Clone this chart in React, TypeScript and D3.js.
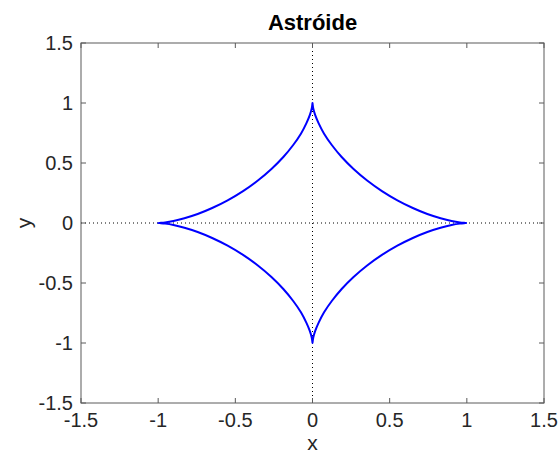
import React from "react";
import * as d3 from "d3";

const curveX = [
  1.0, 0.989, 0.955, 0.901, 0.83, 0.744, 0.65, 0.55, 0.45, 0.354, 0.266, 0.189, 0.125, 0.075, 0.04, 0.017, 0.005, 0.001, 0.0,
  -0.001, -0.005, -0.017, -0.04, -0.075, -0.125, -0.189, -0.266, -0.354, -0.45, -0.55, -0.65, -0.744, -0.83, -0.901, -0.955, -0.989, -1.0,
  -0.989, -0.955, -0.901, -0.83, -0.744, -0.65, -0.55, -0.45, -0.354, -0.266, -0.189, -0.125, -0.075, -0.04, -0.017, -0.005, -0.001, 0.0,
  0.001, 0.005, 0.017, 0.04, 0.075, 0.125, 0.189, 0.266, 0.354, 0.45, 0.55, 0.65, 0.744, 0.83, 0.901, 0.955, 0.989, 1.0,
];
const curveY = [
  0.0, 0.001, 0.005, 0.017, 0.04, 0.075, 0.125, 0.189, 0.266, 0.354, 0.45, 0.55, 0.65, 0.744, 0.83, 0.901, 0.955, 0.989, 1.0,
  0.989, 0.955, 0.901, 0.83, 0.744, 0.65, 0.55, 0.45, 0.354, 0.266, 0.189, 0.125, 0.075, 0.04, 0.017, 0.005, 0.001, 0.0,
  -0.001, -0.005, -0.017, -0.04, -0.075, -0.125, -0.189, -0.266, -0.354, -0.45, -0.55, -0.65, -0.744, -0.83, -0.901, -0.955, -0.989, -1.0,
  -0.989, -0.955, -0.901, -0.83, -0.744, -0.65, -0.55, -0.45, -0.354, -0.266, -0.189, -0.125, -0.075, -0.04, -0.017, -0.005, -0.001, 0.0,
];
const xTicks = [-1.5, -1, -0.5, 0, 0.5, 1, 1.5];
const yTicks = [-1.5, -1, -0.5, 0, 0.5, 1, 1.5];
const xTickLabels = ["-1.5", "-1", "-0.5", "0", "0.5", "1", "1.5"];
const yTickLabels = ["-1.5", "-1", "-0.5", "0", "0.5", "1", "1.5"];
const xDomain = [-1.5, 1.5];
const yDomain = [-1.5, 1.5];
const titleText = "Astróide";
const xLabelText = "x";
const yLabelText = "y";

const W = 559;
const H = 453;
const L = 81, R = 544, T = 43, B = 403;
const FONT = "'Liberation Sans', Arial, Helvetica, sans-serif";
const AXIS = "#5a5a5a";
const TXT = "#262626";
const TL = 5;

export default function App() {
  const x = d3.scaleLinear().domain(xDomain).range([L, R]);
  const y = d3.scaleLinear().domain(yDomain).range([B, T]);
  const pts: [number, number][] = curveX.map((v, i) => [v, curveY[i]]);
  const line = d3
    .line<[number, number]>()
    .x((d) => x(d[0]))
    .y((d) => y(d[1]))
    .curve(d3.curveCatmullRom.alpha(0.5));

  return (
    <svg
      width={W}
      height={H}
      style={{ position: "absolute", left: 0, top: 0, background: "#fff" }}
      fontFamily={FONT}
    >
      <rect x={0} y={0} width={W} height={H} fill="#fff" />
      {/* dotted zero lines */}
      <line x1={x(0)} x2={x(0)} y1={T} y2={B} stroke="#000" strokeWidth={1} strokeDasharray="1,3" />
      <line x1={L} x2={R} y1={y(0)} y2={y(0)} stroke="#000" strokeWidth={1} strokeDasharray="1,3" />
      {/* curve */}
      <path d={line(pts) || ""} fill="none" stroke="#0000ff" strokeWidth={2} strokeLinejoin="round" />
      {/* box */}
      <rect x={L} y={T} width={R - L} height={B - T} fill="none" stroke={AXIS} strokeWidth={1} />
      {/* x ticks */}
      {xTicks.map((v, i) => (
        <g key={"xt" + i}>
          <line x1={x(v)} x2={x(v)} y1={B} y2={B - TL} stroke={AXIS} />
          <line x1={x(v)} x2={x(v)} y1={T} y2={T + TL} stroke={AXIS} />
          <text x={x(v)} y={427} textAnchor="middle" fontSize={20} fill={TXT}>
            {xTickLabels[i]}
          </text>
        </g>
      ))}
      {/* y ticks */}
      {yTicks.map((v, i) => (
        <g key={"yt" + i}>
          <line x1={L} x2={L + TL} y1={y(v)} y2={y(v)} stroke={AXIS} />
          <line x1={R} x2={R - TL} y1={y(v)} y2={y(v)} stroke={AXIS} />
          <text x={73} y={y(v) + 7} textAnchor="end" fontSize={20} fill={TXT}>
            {yTickLabels[i]}
          </text>
        </g>
      ))}
      <text x={(L + R) / 2} y={30} textAnchor="middle" fontSize={22} fontWeight="bold" fill="#000">
        {titleText}
      </text>
      <text x={(L + R) / 2} y={450} textAnchor="middle" fontSize={21} fill={TXT}>
        {xLabelText}
      </text>
      <text
        transform={`translate(31, ${(T + B) / 2}) rotate(-90)`}
        textAnchor="middle"
        fontSize={21}
        fill={TXT}
      >
        {yLabelText}
      </text>
    </svg>
  );
}
